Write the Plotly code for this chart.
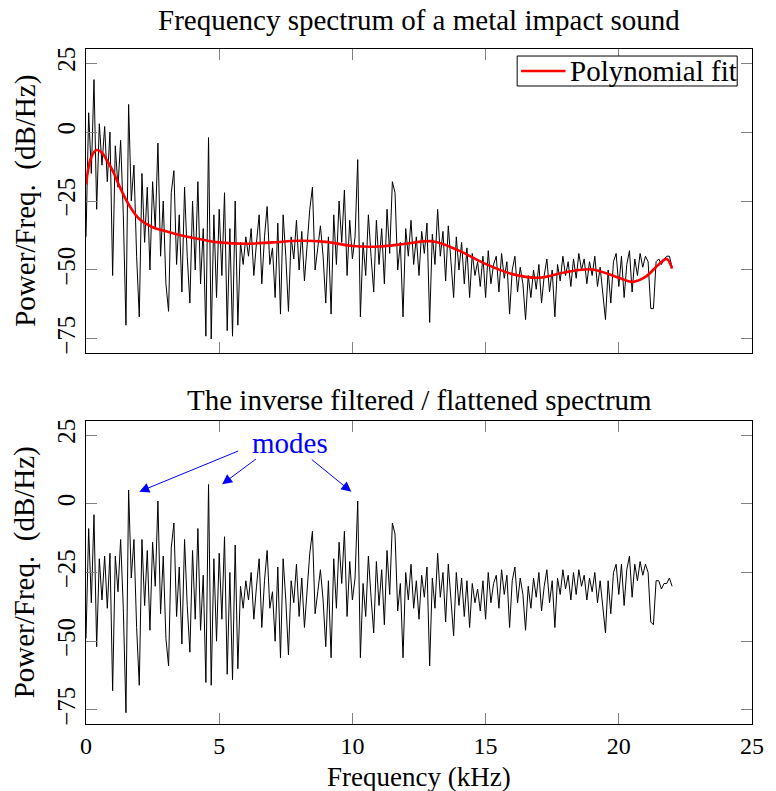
import plotly.graph_objects as go

# Frequency grid (kHz), one sample every 0.1 kHz from 0 to 22 kHz
freq_khz = [i / 10 for i in range(221)]

# Raw spectrum (dB/Hz)
spectrum_db = [
    -38, 7, -15, 19, -28, 3, -12, 2, -18, 0,
    -52, -5, -20, -3, -30, -70, 10, -25, -12, -45,
    -67, -15, -40, -20, -50, -18, -35, -4, -45, -25,
    -55, -65, -22, -14, -48, -30, -58, -20, -45, -62,
    -25, -50, -18, -55, -35, -74, -2, -75, -30, -60,
    -28, -52, -22, -72, -35, -74, -25, -70, -40, -48,
    -38, -45, -35, -52, -40, -30, -55, -38, -27, -48,
    -42, -60, -33, -66, -30, -45, -65, -38, -46, -32,
    -50, -36, -54, -40, -28, -20, -50, -42, -34, -45,
    -62, -38, -66, -30, -48, -25, -40, -21, -52, -32,
    -46, -38, -10, -67, -40, -52, -30, -45, -58, -32,
    -48, -35, -55, -28, -44, -18, -22, -50, -40, -67,
    -35, -45, -32, -48, -38, -52, -36, -44, -33, -69,
    -37, -48, -28, -45, -36, -54, -34, -47, -60, -38,
    -50, -40, -55, -42, -60, -44, -52, -47, -56, -45,
    -60, -43, -55, -48, -45, -58, -44, -53, -47, -66,
    -50, -45, -58, -49, -55, -68, -52, -60, -50, -57,
    -48, -62, -52, -46, -58, -50, -67, -48, -54, -45,
    -52, -47, -56, -46, -53, -44, -50, -46, -55, -47,
    -52, -45, -56, -49, -58, -68, -50, -62, -47, -44,
    -56, -45, -60, -48, -43, -58, -46, -52, -44, -49,
    -45, -47, -64, -64, -47, -46, -48, -46, -45, -45,
    -49,
]

# Polynomial fit (dB/Hz), read at selected frequencies
fit_khz = [0, 0.2, 0.4, 0.6, 0.8, 1.0, 1.25, 1.5, 1.75, 2, 2.5, 3, 3.5, 4, 5, 6,
           7, 8, 9, 10, 11, 12, 13, 14, 15, 16, 17, 18, 19, 20, 20.5, 21, 21.5,
           21.8, 22]
fit_db = [-19, -9, -6.5, -7.5, -10.5, -14, -19.5, -24.5, -28.5, -31.5, -34.5,
          -36, -37.3, -38.3, -40, -40.5, -40, -39.4, -39.8, -41.3, -41.5, -40.5,
          -39.6, -43, -47.8, -51.5, -52.8, -50.8, -49.8, -52.8, -54.3, -52.5,
          -48, -46, -49.5]

# Inverse filtered / flattened spectrum (dB/Hz)
flat_db = [
    -49, -9, -36, -4, -52, -20, -35, -19, -38, -18,
    -68, -19, -32, -13, -38, -76, 5, -27, -13, -45,
    -66, -13, -37, -17, -46, -14, -30, 1, -40, -19,
    -49, -59, -16, -7, -41, -23, -51, -13, -37, -54,
    -17, -42, -9, -46, -26, -65, 7, -66, -20, -50,
    -18, -42, -12, -62, -25, -64, -15, -60, -30, -38,
    -28, -35, -25, -42, -30, -20, -45, -28, -17, -38,
    -32, -50, -23, -56, -20, -35, -55, -28, -36, -22,
    -41, -27, -45, -30, -18, -10, -40, -32, -24, -35,
    -52, -28, -56, -20, -38, -14, -29, -10, -41, -21,
    -35, -27, 1, -56, -29, -41, -19, -34, -47, -21,
    -37, -24, -44, -17, -33, -7, -11, -39, -29, -56,
    -25, -35, -22, -38, -28, -42, -26, -34, -23, -59,
    -27, -38, -18, -34, -25, -43, -22, -35, -48, -25,
    -37, -27, -41, -28, -45, -29, -36, -31, -39, -28,
    -42, -25, -36, -29, -26, -38, -24, -33, -26, -45,
    -28, -23, -36, -27, -33, -46, -30, -38, -27, -34,
    -25, -39, -30, -24, -36, -28, -45, -27, -33, -24,
    -31, -26, -35, -25, -33, -24, -30, -26, -35, -27,
    -32, -25, -36, -28, -37, -47, -28, -40, -25, -22,
    -33, -22, -37, -24, -19, -34, -22, -28, -21, -26,
    -22, -25, -43, -44, -28, -28, -31, -29, -29, -27,
    -30,
]

x_ticks = [0, 5, 10, 15, 20, 25]
x_tick_text = ["0", "5", "10", "15", "20", "25"]
y_ticks = [-75, -50, -25, 0, 25]
y_tick_text = ["\u221275", "\u221250", "\u221225", "0", "25"]

# Mode annotations: (head_x, head_y, tail_x, tail_y) in data units
mode_arrows = [
    (2.0, 4.4, 5.77, 19.4),
    (5.11, 7.1, 6.44, 16.7),
    (9.96, 4.4, 8.42, 16.5),
]

FONT = "Liberation Serif, Times New Roman, serif"

fig = go.Figure()
fig.add_trace(go.Scatter(x=freq_khz, y=spectrum_db, mode="lines",
                         line=dict(color="black", width=1), showlegend=False,
                         xaxis="x", yaxis="y"))
fig.add_trace(go.Scatter(x=fit_khz, y=fit_db, mode="lines",
                         line=dict(color="red", width=2.6, shape="spline", smoothing=1),
                         name="Polynomial fit", showlegend=False,
                         xaxis="x", yaxis="y"))
fig.add_trace(go.Scatter(x=freq_khz, y=flat_db, mode="lines",
                         line=dict(color="black", width=1), showlegend=False,
                         xaxis="x2", yaxis="y2"))

common = dict(showline=True, linecolor="black", linewidth=1, mirror="ticks",
              ticks="inside", ticklen=11, tickcolor="#808080", tickwidth=1,
              showgrid=False, zeroline=False)
yfont = dict(family=FONT, size=25, color="black")
xfont = dict(family=FONT, size=24, color="black")

fig.update_layout(
    width=776, height=791,
    margin=dict(l=86, r=15, t=49, b=67),
    paper_bgcolor="white", plot_bgcolor="white",
    font=dict(family=FONT, color="black"),
    xaxis=dict(domain=[0, 1], anchor="y", range=[0, 25], tickvals=x_ticks,
               ticktext=x_tick_text, showticklabels=False, tickfont=xfont, **common),
    yaxis=dict(domain=[0.5496, 1], anchor="x", range=[-80.1, 30.1],
               tickvals=y_ticks, ticktext=y_tick_text, tickangle=-90,
               tickfont=yfont, **common),
    xaxis2=dict(domain=[0, 1], anchor="y2", range=[0, 25], tickvals=x_ticks,
                ticktext=x_tick_text, tickfont=xfont, **common),
    yaxis2=dict(domain=[0, 0.4489], anchor="x2", range=[-80.1, 30.1],
                tickvals=y_ticks, ticktext=y_tick_text, tickangle=-90,
                tickfont=yfont, **common),
    showlegend=False,
)

# Legend box drawn in the upper panel (paper coordinates)
fig.add_shape(type="rect", xref="paper", yref="paper", x0=0.6474, x1=0.9778,
              y0=0.9452, y1=0.9896, line=dict(color="black", width=1),
              fillcolor="white", layer="above")
fig.add_shape(type="line", xref="paper", yref="paper", x0=0.6533, x1=0.72,
              y0=0.9674, y1=0.9674, line=dict(color="red", width=2.6), layer="above")

ann = [
    dict(text="Polynomial fit", x=0.7244, y=0.9674, xref="paper", yref="paper",
         showarrow=False, xanchor="left", yanchor="middle",
         font=dict(family=FONT, size=29, color="black")),
    dict(text="Frequency spectrum of a metal impact sound", x=0.5, y=1.043,
         xref="paper", yref="paper", showarrow=False, yanchor="middle",
         font=dict(family=FONT, size=29, color="black")),
    dict(text="The inverse filtered / flattened spectrum", x=0.5, y=0.48,
         xref="paper", yref="paper", showarrow=False, yanchor="middle",
         font=dict(family=FONT, size=29, color="black")),
    dict(text="Frequency (kHz)", x=0.5, y=-0.0785, xref="paper", yref="paper",
         showarrow=False, yanchor="middle", borderpad=0,
         font=dict(family=FONT, size=27, color="black")),
    dict(text="Power/Freq.  (dB/Hz)", x=-0.0919, y=0.7748, xref="paper", yref="paper",
         showarrow=False, textangle=-90, xanchor="center", yanchor="middle",
         font=dict(family=FONT, size=29, color="black")),
    dict(text="Power/Freq.  (dB/Hz)", x=-0.0919, y=0.2244, xref="paper", yref="paper",
         showarrow=False, textangle=-90, xanchor="center", yanchor="middle",
         font=dict(family=FONT, size=29, color="black")),
    dict(text="modes", x=7.65, y=22.0, xref="x2", yref="y2", showarrow=False,
         yanchor="middle", font=dict(family=FONT, size=29, color="blue")),
]
for hx, hy, tx, ty in mode_arrows:
    ann.append(dict(text="", x=hx, y=hy, ax=tx, ay=ty, xref="x2", yref="y2",
                    axref="x2", ayref="y2", showarrow=True, arrowhead=2,
                    arrowsize=2, arrowwidth=1, arrowcolor="blue", standoff=0))
fig.update_layout(annotations=ann)

fig.write_html("out.html")
